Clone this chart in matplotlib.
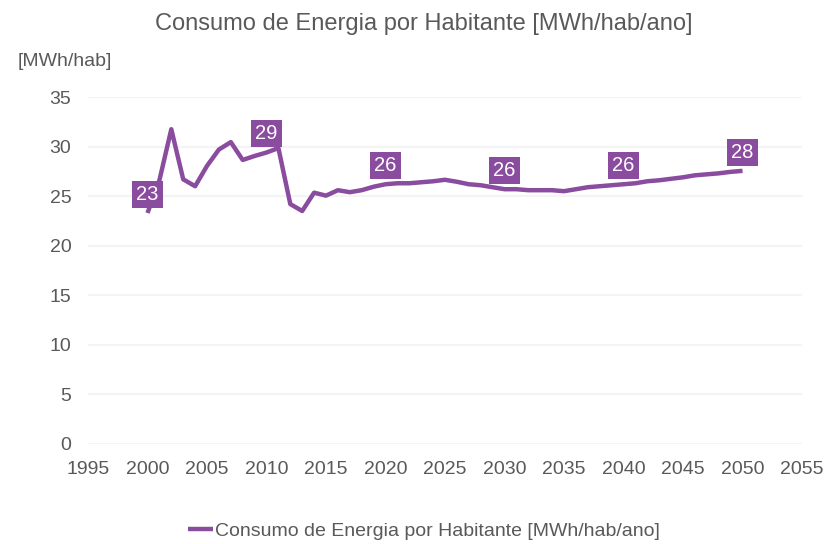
import matplotlib
matplotlib.use("Agg")
import matplotlib.pyplot as plt

years = list(range(2000, 2051))
consumo = [
    23.3, 26.6, 31.75, 26.7, 26.0, 28.05, 29.7, 30.45, 28.65, 29.05,
    29.4, 29.85, 24.2, 23.5, 25.35, 25.05, 25.6, 25.4, 25.6, 25.95,
    26.2, 26.3, 26.3, 26.4, 26.5, 26.65, 26.45, 26.2, 26.1, 25.9,
    25.7, 25.7, 25.6, 25.6, 25.6, 25.5, 25.7, 25.9, 26.0, 26.1,
    26.2, 26.3, 26.5, 26.6, 26.75, 26.9, 27.1, 27.2, 27.3, 27.45,
    27.55,
]
label_years = [2000, 2010, 2020, 2030, 2040, 2050]

title = "Consumo de Energia por Habitante [MWh/hab/ano]"
purple = "#8A4C9E"
grey = "#595959"

plt.rcParams["font.family"] = ["Liberation Sans", "DejaVu Sans"]

fig = plt.figure(figsize=(8.27, 5.44), dpi=100)
ax = fig.add_axes([88 / 827, 100 / 544, 714 / 827, 347 / 544])

ax.plot(years, consumo, color=purple, lw=3.2, solid_capstyle="butt", label=title)

for yr in label_years:
    v = consumo[years.index(yr)]
    ax.annotate(f"{v:.0f}", (yr, v), xytext=(0, 13.5), textcoords="offset points",
                ha="center", va="center", color="white", fontsize=14.5,
                bbox=dict(boxstyle="square,pad=0.2", fc=purple, ec="none"))

ax.set_xlim(1995, 2055)
ax.set_ylim(0, 35)
ax.set_xticks(range(1995, 2056, 5))
ax.set_yticks(range(0, 36, 5))
ax.grid(axis="y", color="#F4F4F4", lw=1.5)
ax.set_axisbelow(True)
for s in ax.spines.values():
    s.set_visible(False)
ax.tick_params(length=0, labelsize=14, labelcolor=grey)
ax.tick_params(axis="x", pad=12)
ax.tick_params(axis="y", pad=12)

fig.text(424 / 827, 1 - 24 / 544, title, ha="center", va="center", fontsize=17, color=grey)
fig.text(18 / 827, 1 - 62 / 544, "[MWh/hab]", ha="left", va="center", fontsize=14, color=grey)

leg = fig.legend(loc="center", bbox_to_anchor=(424 / 827, 1 - 531 / 544), frameon=False,
                 fontsize=14, handlelength=1.3, handletextpad=0.1)
for t in leg.get_texts():
    t.set_color(grey)

fig.savefig("out.png", dpi=100)
